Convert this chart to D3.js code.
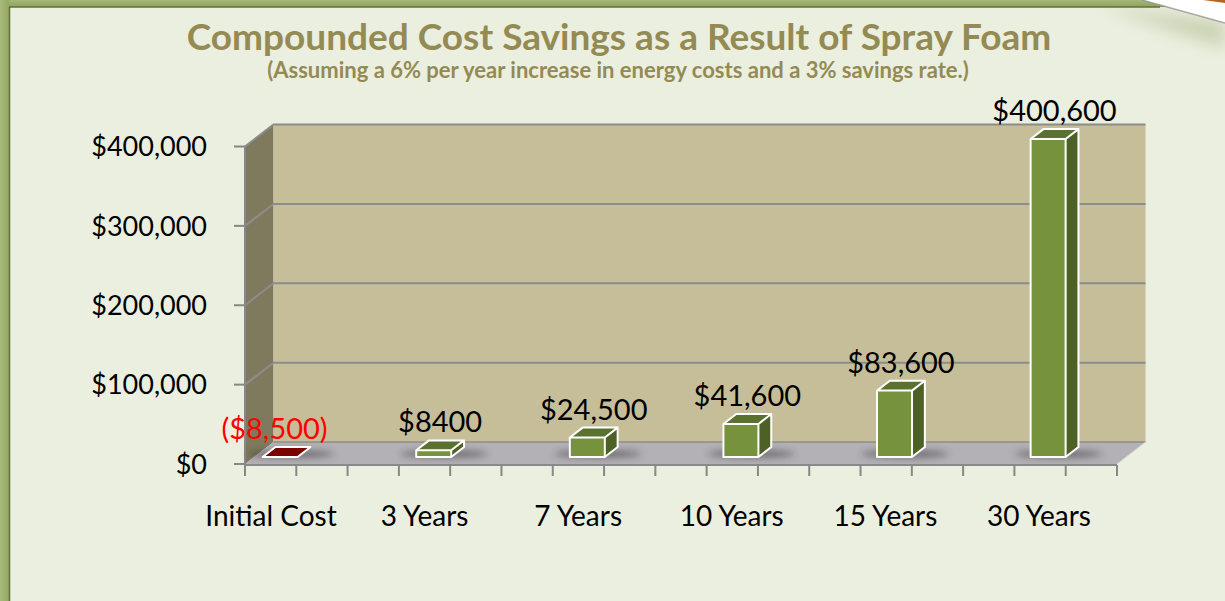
<!DOCTYPE html>
<html>
<head>
<meta charset="utf-8">
<script src="https://cdn.jsdelivr.net/npm/d3@7"></script>
<style>
  html, body { margin: 0; padding: 0; background: #ebefdf; }
  svg { display: block; font-family: Lato, "Open Sans", sans-serif; }
</style>
</head>
<body>
<div id="chart"></div>
<script>
// data
let categories = ["Initial Cost", "3 Years", "7 Years", "10 Years", "15 Years", "30 Years"]
let savings = [-8500, 8400, 24500, 41600, 83600, 400600]
let valueLabels = ["($8,500)", "$8400", "$24,500", "$41,600", "$83,600", "$400,600"]
let yTicks = [0, 100000, 200000, 300000, 400000]

let width = 1225
let height = 601

// 3d box of the plot
let left = 245, right = 1117
let depth = { dx: 28.5, dy: -22 }
let barFront = 0.32, barBack = 0.77
let barW = 35

let svg = d3.select("#chart")
    .append("svg")
    .attr("width", width)
    .attr("height", height)

let defs = svg.append("defs")

defs.append("filter")
    .attr("id", "blur")
    .attr("x", "-50%").attr("y", "-200%")
    .attr("width", "200%").attr("height", "500%")
    .append("feGaussianBlur")
    .attr("stdDeviation", 3.5)

defs.append("filter")
    .attr("id", "blurBig")
    .attr("x", "-50%").attr("y", "-100%")
    .attr("width", "200%").attr("height", "300%")
    .append("feGaussianBlur")
    .attr("stdDeviation", 8)

let topGrad = defs.append("linearGradient")
    .attr("id", "topBorder")
    .attr("x1", 0).attr("y1", 0).attr("x2", 0).attr("y2", 1)
topGrad.append("stop").attr("offset", "0%").attr("stop-color", "#a4b877")
topGrad.append("stop").attr("offset", "100%").attr("stop-color", "#8ea35c")

let leftGrad = defs.append("linearGradient")
    .attr("id", "leftBorder")
    .attr("x1", 0).attr("y1", 0).attr("x2", 1).attr("y2", 0)
leftGrad.append("stop").attr("offset", "0%").attr("stop-color", "#a7ba7a")
leftGrad.append("stop").attr("offset", "100%").attr("stop-color", "#94a865")

// page frame
svg.append("rect")
    .attr("width", width)
    .attr("height", height)
    .style("fill", "#ebefdf")

svg.append("polygon")
    .attr("points", "1100,6 1225,22 1225,48 1170,30")
    .style("fill", "#8a9c5e")
    .style("opacity", 0.35)
    .attr("filter", "url(#blurBig)")

svg.append("rect")
    .attr("width", width)
    .attr("height", 7)
    .style("fill", "url(#topBorder)")
svg.append("line")
    .attr("x1", 9).attr("x2", 1160)
    .attr("y1", 7).attr("y2", 7)
    .style("stroke", "#5f7136")
    .style("stroke-width", 1.5)

svg.append("rect")
    .attr("width", 9)
    .attr("height", height)
    .style("fill", "url(#leftBorder)")
svg.append("line")
    .attr("x1", 9.5).attr("x2", 9.5)
    .attr("y1", 7).attr("y2", height)
    .style("stroke", "#5f7136")
    .style("stroke-width", 1.5)

// curled corner
svg.append("polygon")
    .attr("points", "1142,0 1225,0 1225,23")
    .style("fill", "#ffffff")
svg.append("line")
    .attr("x1", 1142).attr("y1", 0)
    .attr("x2", 1225).attr("y2", 23)
    .style("stroke", "#8a8a8a")
    .style("stroke-width", 1.5)
    .style("opacity", 0.7)
svg.append("polygon")
    .attr("points", "1203,0 1225,0 1225,3")
    .style("fill", "#b5651d")

// titles
svg.append("text")
    .attr("x", 619)
    .attr("y", 50)
    .attr("text-anchor", "middle")
    .style("font-size", "37px")
    .style("font-weight", "bold")
    .style("fill", "#948a54")
    .text("Compounded Cost Savings as a Result of Spray Foam")

svg.append("text")
    .attr("x", 618)
    .attr("y", 78)
    .attr("text-anchor", "middle")
    .style("font-size", "22px")
    .style("font-weight", "bold")
    .style("fill", "#948a54")
    .text("(Assuming a 6% per year increase in energy costs and a 3% savings rate.)")

// scales
let x = d3.scalePoint()
    .domain(categories)
    .range([271, 1039])

let y = d3.scaleLinear()
    .domain([0, 400000])
    .range([464, 146.5])

let y0 = y(0), yTop = y(400000)

// walls and floor
svg.append("polygon")
    .attr("points", [[left, yTop], [left + depth.dx, yTop + depth.dy],
        [left + depth.dx, y0 + depth.dy], [left, y0]].join(" "))
    .style("fill", "#7f7a5e")

svg.append("rect")
    .attr("x", left + depth.dx)
    .attr("y", yTop + depth.dy)
    .attr("width", right - left)
    .attr("height", y0 - yTop)
    .style("fill", "#c6be99")

svg.append("polygon")
    .attr("points", [[left, y0], [right, y0], [right + depth.dx, y0 + depth.dy],
        [left + depth.dx, y0 + depth.dy]].join(" "))
    .style("fill", "#b3b0b6")

// gridlines on back and side wall
let grid = svg.append("g")
grid.selectAll(".grid")
    .data(yTicks.filter(d => d > 0))
    .enter()
    .append("polyline")
    .attr("points", d => [[left, y(d)], [left + depth.dx, y(d) + depth.dy],
        [right + depth.dx, y(d) + depth.dy]].join(" "))
    .style("fill", "none")
    .style("stroke", "#8c8c8c")
    .style("stroke-width", 2)

svg.append("line")
    .attr("x1", left + depth.dx).attr("x2", right + depth.dx)
    .attr("y1", y0 + depth.dy).attr("y2", y0 + depth.dy)
    .style("stroke", "#8f8c84")
    .style("stroke-width", 1.5)

svg.append("line")
    .attr("x1", left).attr("x2", right)
    .attr("y1", y0 + 1).attr("y2", y0 + 1)
    .style("stroke", "#8a8a8a")
    .style("stroke-width", 2)

svg.append("line")
    .attr("x1", right).attr("x2", right + depth.dx)
    .attr("y1", y0).attr("y2", y0 + depth.dy)
    .style("stroke", "#d6d6d6")
    .style("stroke-width", 1)

// value axis
let yAxis = svg.append("g")
yAxis.append("line")
    .attr("x1", left).attr("x2", left)
    .attr("y1", yTop).attr("y2", y0 + 1)
    .style("stroke", "#878787")
    .style("stroke-width", 2)

yAxis.selectAll(".tick")
    .data(yTicks)
    .enter()
    .append("line")
    .attr("x1", left - 11).attr("x2", left)
    .attr("y1", d => y(d)).attr("y2", d => y(d))
    .style("stroke", "#878787")
    .style("stroke-width", 2)

yAxis.selectAll(".label")
    .data(yTicks)
    .enter()
    .append("text")
    .attr("x", 207)
    .attr("y", d => y(d))
    .attr("dy", "0.36em")
    .attr("text-anchor", "end")
    .style("font-size", "27px")
    .style("fill", "#000")
    .text(d => d3.format("$,")(d))

// category axis ticks along the front edge
let xTicks = d3.range(18).map(i => left + i * (right - left) / 17)
svg.append("g")
    .selectAll("line")
    .data(xTicks)
    .enter()
    .append("line")
    .attr("x1", d => d).attr("x2", d => d)
    .attr("y1", y0 + 1).attr("y2", y0 + 12)
    .style("stroke", "#878787")
    .style("stroke-width", 2)

svg.append("g")
    .selectAll("text")
    .data(categories)
    .enter()
    .append("text")
    .attr("x", d => x(d))
    .attr("y", 526)
    .attr("text-anchor", "middle")
    .style("font-size", "28px")
    .style("fill", "#000")
    .text(d => d)

// bars
let bars = categories.map((c, i) => ({ cat: c, value: savings[i], label: valueLabels[i] }))

let fx = barFront * depth.dx, fy = barFront * depth.dy
let bx = (barBack - barFront) * depth.dx, by = (barBack - barFront) * depth.dy

// soft shadows on the floor
svg.append("g")
    .selectAll("ellipse")
    .data(bars)
    .enter()
    .append("ellipse")
    .attr("cx", d => x(d.cat) + fx + bx / 2 + 4)
    .attr("cy", y0 + fy + by / 2 + 2)
    .attr("rx", 44)
    .attr("ry", 3.5)
    .style("fill", "#2e2e2e")
    .style("opacity", 0.55)
    .attr("filter", "url(#blur)")

let barG = svg.append("g")
    .selectAll("g")
    .data(bars)
    .enter()
    .append("g")

function corners(d) {
    let xl = x(d.cat) - barW / 2 + fx
    let xr = xl + barW
    let yt = y(Math.max(d.value, 0)) + fy
    let yb = y0 + fy
    return { xl, xr, yt, yb }
}

barG.append("rect")
    .attr("x", d => corners(d).xl)
    .attr("y", d => corners(d).yt)
    .attr("width", barW)
    .attr("height", d => corners(d).yb - corners(d).yt)
    .style("fill", "#77923c")

barG.append("polygon")
    .attr("points", d => {
        let k = corners(d)
        return [[k.xr, k.yt], [k.xr + bx, k.yt + by], [k.xr + bx, k.yb + by], [k.xr, k.yb]].join(" ")
    })
    .style("fill", "#4d6126")

barG.append("polygon")
    .attr("points", d => {
        let k = corners(d)
        return [[k.xl, k.yt], [k.xr, k.yt], [k.xr + bx, k.yt + by], [k.xl + bx, k.yt + by]].join(" ")
    })
    .style("fill", d => d.value < 0 ? "#7b0000" : "#5b7130")

// white edges
barG.append("path")
    .attr("d", d => {
        let k = corners(d)
        return "M" + [k.xl, k.yb] + "L" + [k.xl, k.yt] + "L" + [k.xl + bx, k.yt + by] +
            "L" + [k.xr + bx, k.yt + by] + "L" + [k.xr + bx, k.yb + by] + "L" + [k.xr, k.yb] + "Z" +
            "M" + [k.xl, k.yt] + "L" + [k.xr, k.yt] + "L" + [k.xr + bx, k.yt + by] +
            "M" + [k.xr, k.yt] + "L" + [k.xr, k.yb]
    })
    .style("fill", "none")
    .style("stroke", "#ffffff")
    .style("stroke-width", 2)
    .style("stroke-linejoin", "round")

// value labels
barG.append("text")
    .attr("x", d => x(d.cat) + fx + bx / 2 + (d.value < 0 ? -12 : 0))
    .attr("y", d => corners(d).yt + by - 8)
    .attr("text-anchor", "middle")
    .style("font-size", "29px")
    .style("fill", d => d.value < 0 ? "#ff0000" : "#000")
    .text(d => d.label)
</script>
</body>
</html>
